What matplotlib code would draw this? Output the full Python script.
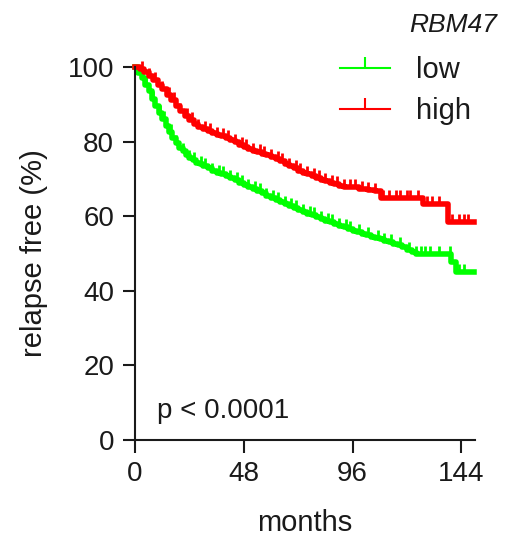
import matplotlib
matplotlib.use("Agg")
import matplotlib.pyplot as plt
from matplotlib.lines import Line2D
import numpy as np

plt.rcParams['font.family'] = ['Liberation Sans', 'DejaVu Sans']

# Kaplan-Meier step data (months, % relapse free)
low_t = [0, 1.5, 3, 4.5, 6, 7.5, 9, 10.5, 12, 13.5, 15, 16.5, 18, 19.5, 21, 22.5, 24, 25.5, 27, 28.5,
         30, 32, 34, 36, 38, 40, 42, 44, 46, 48, 50, 52, 54, 56, 58, 60, 62, 64, 66, 68, 70, 72, 74,
         76, 78, 80, 82, 84, 86, 88, 90, 92, 94, 96, 98, 100, 102, 104, 106, 108, 110, 112, 114, 116,
         118, 120, 122, 124, 139.5, 141.5, 149.5]
low_s = [100, 98.5, 97, 95.3, 93.5, 91.5, 89.5, 87.7, 86, 84.3, 82.6, 81, 79.6, 78.4, 77.4, 76.5, 75.7,
         75, 74.4, 73.9, 73.4, 72.8, 72.2, 71.7, 71.2, 70.7, 70.2, 69.6, 69, 68.4, 67.8, 67.3, 66.7,
         66.1, 65.5, 64.9, 64.4, 63.9, 63.3, 62.7, 62.2, 61.7, 61.1, 60.7, 60.2, 59.7, 59.3, 58.8,
         58.4, 57.9, 57.4, 57.0, 56.5, 56.1, 55.7, 55.3, 54.9, 54.5, 54.1, 53.8, 53.4, 53.0, 52.6,
         52.2, 51.8, 51.0, 50.5, 50.0, 47.6, 45.0, 45.0]
high_t = [0, 2, 4, 6, 8, 10, 12, 14, 16, 18, 20, 22, 24, 26, 28, 30, 32, 34, 36, 38, 40, 42, 44, 46, 48,
          50, 52, 54, 56, 58, 60, 62, 64, 66, 68, 70, 72, 74, 76, 78, 80, 82, 84, 86, 88, 90, 92, 95,
          99, 103, 106, 108.7, 127, 138, 149.5]
high_s = [100, 99.5, 98.7, 97.7, 96.6, 95.3, 94.0, 92.6, 91.1, 89.6, 88.1, 86.8, 85.7, 84.8, 84.0, 83.4,
          82.9, 82.4, 81.9, 81.4, 80.9, 80.4, 79.8, 79.2, 78.6, 78.1, 77.6, 77.2, 76.8, 76.4, 76.0,
          75.4, 74.7, 74.1, 73.4, 72.8, 72.2, 71.7, 71.2, 70.7, 70.2, 69.8, 69.4, 69.0, 68.6, 68.2,
          67.9, 67.7, 67.4, 67.0, 66.7, 64.8, 63.3, 58.5, 58.5]

# censoring marks (months)
low_cens = [2, 5, 8, 11, 13, 16, 18, 21, 24, 26, 29, 31, 34, 37, 39, 42, 45, 47, 50, 53, 55, 58, 61,
            63, 66, 69, 71, 74, 77, 79, 82, 85, 87, 90, 93, 95, 99, 103, 107, 110, 113, 117, 121, 124,
            126, 128, 130, 134, 139, 143, 145]
high_cens = [3, 6, 9, 12, 15, 17, 20, 23, 25, 28, 31, 33, 36, 39, 41, 44, 47, 49, 52, 55, 57, 60, 63,
             65, 68, 71, 73, 76, 79, 81, 84, 87, 89, 92, 95, 97, 100, 103, 106, 109.5, 112, 115, 117,
             120, 121.5, 125, 129, 131, 134, 140, 143, 145, 147]

x_ticks = [0, 48, 96, 144]
y_ticks = [0, 20, 40, 60, 80, 100]
series_labels = ['low', 'high']
series_colors = ['#00ff00', '#ff0000']
txt_color = '#1a1a1a'

fig = plt.figure(figsize=(5.18, 5.45), dpi=100)
ax = fig.add_axes([0.2606, 0.1927, 0.6564, 0.6843])

for t, s, cens, c in [(low_t, low_s, low_cens, series_colors[0]),
                      (high_t, high_s, high_cens, series_colors[1])]:
    ax.step(t, s, where='post', color=c, lw=4.0, clip_on=False)
    idx = np.searchsorted(t, cens, side='right') - 1
    cv = [s[i] for i in idx]
    ax.plot(cens, cv, ls='none', marker=2, ms=6, mew=2, color=c, clip_on=False)

ax.set_xlim(0, 150)
ax.set_ylim(0, 100)
ax.set_xticks(x_ticks)
ax.set_yticks(y_ticks)
for sp in ['top', 'right']:
    ax.spines[sp].set_visible(False)
for sp in ['left', 'bottom']:
    ax.spines[sp].set_linewidth(1.5)
    ax.spines[sp].set_color(txt_color)
ax.tick_params(direction='out', length=9, width=1.5, labelsize=20, colors=txt_color, pad=6)
ax.set_xlabel('months', fontsize=21, color=txt_color, labelpad=16)
ax.set_ylabel('relapse free (%)', fontsize=21, color=txt_color, labelpad=14)

ax.text(9.5, 6, 'p < 0.0001', fontsize=20, color=txt_color)

handles = [Line2D([0], [0], color=series_colors[i], lw=1.5, marker=2, ms=8, mew=1.5) for i in range(2)]
leg = fig.legend(handles, series_labels, loc='upper left', bbox_to_anchor=(0.606, 0.945),
                 frameon=False, fontsize=21, handlelength=1.7, handletextpad=0.9, labelspacing=0.45)
for txt in leg.get_texts():
    txt.set_color(txt_color)

fig.text(0.96, 0.955, 'RBM47', fontsize=19, style='italic', ha='right', va='center', color=txt_color)

fig.savefig('out.png', dpi=100)
